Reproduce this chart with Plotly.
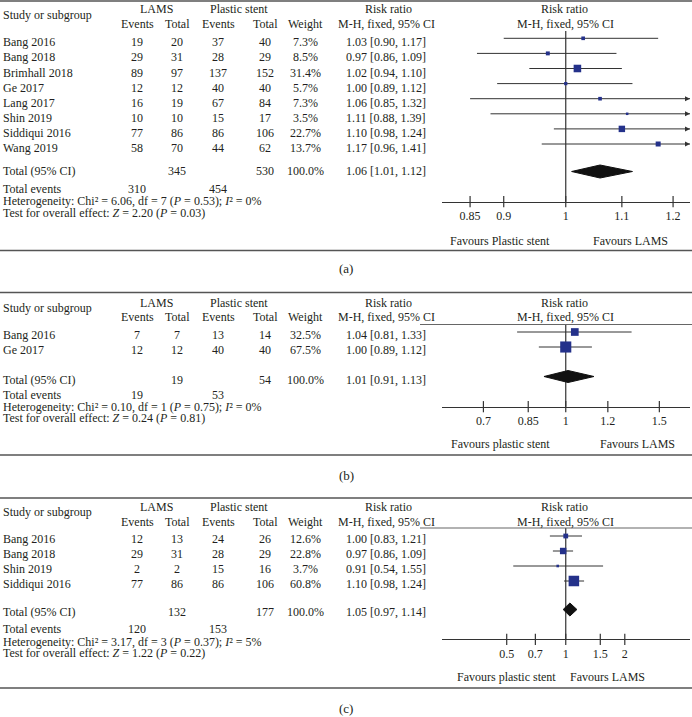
import math
import plotly.graph_objects as go

# ---------------- data ----------------
# Panel (a)
studies_a = ["Bang 2016", "Bang 2018", "Brimhall 2018", "Ge 2017", "Lang 2017",
             "Shin 2019", "Siddiqui 2016", "Wang 2019"]
lams_ev_a = [19, 29, 89, 12, 16, 10, 77, 58]
lams_tot_a = [20, 31, 97, 12, 19, 10, 86, 70]
ps_ev_a = [37, 28, 137, 40, 67, 15, 86, 44]
ps_tot_a = [40, 29, 152, 40, 84, 17, 106, 62]
weight_a = [7.3, 8.5, 31.4, 5.7, 7.3, 3.5, 22.7, 13.7]
rr_a = [1.03, 0.97, 1.02, 1.00, 1.06, 1.11, 1.10, 1.17]
lo_a = [0.90, 0.86, 0.94, 0.89, 0.85, 0.88, 0.98, 0.96]
hi_a = [1.17, 1.09, 1.10, 1.12, 1.32, 1.39, 1.24, 1.41]
total_a = [345, 530, 310, 454]          # LAMS total, PS total, LAMS events, PS events
pooled_a = [1.06, 1.01, 1.12]
het_a = ["6.06", "7", "0.53", "0%"]
z_a = ["2.20", "0.03"]
ticks_a = [0.85, 0.9, 1, 1.1, 1.2]
tick_text_a = ["0.85", "0.9", "1", "1.1", "1.2"]

# Panel (b)
studies_b = ["Bang 2016", "Ge 2017"]
lams_ev_b = [7, 12]
lams_tot_b = [7, 12]
ps_ev_b = [13, 40]
ps_tot_b = [14, 40]
weight_b = [32.5, 67.5]
rr_b = [1.04, 1.00]
lo_b = [0.81, 0.89]
hi_b = [1.33, 1.12]
total_b = [19, 54, 19, 53]
pooled_b = [1.01, 0.91, 1.13]
het_b = ["0.10", "1", "0.75", "0%"]
z_b = ["0.24", "0.81"]
ticks_b = [0.7, 0.85, 1, 1.2, 1.5]
tick_text_b = ["0.7", "0.85", "1", "1.2", "1.5"]

# Panel (c)
studies_c = ["Bang 2016", "Bang 2018", "Shin 2019", "Siddiqui 2016"]
lams_ev_c = [12, 29, 2, 77]
lams_tot_c = [13, 31, 2, 86]
ps_ev_c = [24, 28, 15, 86]
ps_tot_c = [26, 29, 16, 106]
weight_c = [12.6, 22.8, 3.7, 60.8]
rr_c = [1.00, 0.97, 0.91, 1.10]
lo_c = [0.83, 0.86, 0.54, 0.98]
hi_c = [1.21, 1.09, 1.55, 1.24]
total_c = [132, 177, 120, 153]
pooled_c = [1.05, 0.97, 1.14]
het_c = ["3.17", "3", "0.37", "5%"]
z_c = ["1.22", "0.22"]
ticks_c = [0.5, 0.7, 1, 1.5, 2]
tick_text_c = ["0.5", "0.7", "1", "1.5", "2"]

fav_left = ["Favours Plastic stent", "Favours plastic stent", "Favours plastic stent"]
fav_right = ["Favours LAMS", "Favours LAMS", "Favours LAMS"]
panel_labels = ["(a)", "(b)", "(c)"]

# ---------------- styling / layout ----------------
W, H = 692, 717
FONT = "Liberation Serif"
TXT = "#231f20"
LINE = "#333333"
BLUE = "#24318a"

COL = dict(study=2, ev1=137, tot1=177, ev2=218, tot2=265, wt=305, ci=386, fp=565)
FX0, FX1 = 441.5, 690.0

panels = [
    dict(studies=studies_a, lev=lams_ev_a, ltot=lams_tot_a, pev=ps_ev_a, ptot=ps_tot_a,
         wt=weight_a, rr=rr_a, lo=lo_a, hi=hi_a, tot=total_a, pooled=pooled_a,
         het=het_a, z=z_a, ticks=ticks_a, ttext=tick_text_a, rmax=1.235,
         top=1, h1=9, hs=15, h2=24, hline=None, row0=42.3, step=15.1, fdy=-4,
         ytot=171, yev=188.5, yhet=201, ytest=212.5, ydia=171.5, dh=6.5,
         vtop=31, axis=201.7, fav=241, bottom=250.5, lab=268),
    dict(studies=studies_b, lev=lams_ev_b, ltot=lams_tot_b, pev=ps_ev_b, ptot=ps_tot_b,
         wt=weight_b, rr=rr_b, lo=lo_b, hi=hi_b, tot=total_b, pooled=pooled_b,
         het=het_b, z=z_b, ticks=ticks_b, ttext=tick_text_b, rmax=1.713,
         top=292.5, h1=302.5, hs=307.5, h2=317, hline=324.5, row0=335, step=15, fdy=-3,
         ytot=380, yev=395, yhet=407, ytest=418, ydia=376.5, dh=6,
         vtop=324.5, axis=406.7, fav=444.3, bottom=455, lab=475),
    dict(studies=studies_c, lev=lams_ev_c, ltot=lams_tot_c, pev=ps_ev_c, ptot=ps_tot_c,
         wt=weight_c, rr=rr_c, lo=lo_c, hi=hi_c, tot=total_c, pooled=pooled_c,
         het=het_c, z=z_c, ticks=ticks_c, ttext=tick_text_c, rmax=4.3,
         top=498, h1=506.5, hs=512, h2=522, hline=528, row0=539, step=15, fdy=-3,
         ytot=612, yev=628.5, yhet=642, ytest=653, ydia=609.5, dh=6.5,
         vtop=528, axis=639.3, fav=677, bottom=688, lab=708),
]

fig = go.Figure()
ann = []
shapes = []


def txt(x, y, s, anchor="center", size=12):
    ann.append(dict(x=x, y=y, xref="x", yref="y", text=s, showarrow=False,
                    xanchor=anchor, yanchor="middle", borderpad=0,
                    font=dict(family=FONT, size=size, color=TXT)))


def hline(y, x0=0, x1=W, color="#555555", width=1.5):
    shapes.append(dict(type="line", xref="x", yref="y", x0=x0, x1=x1, y0=y, y1=y,
                       line=dict(color=color, width=width)))


layout_axes = {}
for k, p in enumerate(panels):
    ax = "x%d" % (k + 2)
    axname = "xaxis%d" % (k + 2)
    # --- frame lines
    hline(p["top"])
    hline(p["bottom"])
    if p["hline"] is not None:
        hline(p["hline"], x0=420, x1=W, color="#666666", width=1.2)

    # --- header
    txt(156, p["h1"], "LAMS")
    txt(239, p["h1"], "Plastic stent")
    txt(COL["ci"] + 2, p["h1"], "Risk ratio")
    txt(COL["fp"] - 1, p["h1"], "Risk ratio")
    txt(COL["study"], p["hs"], "Study or subgroup", anchor="left")
    txt(COL["ev1"], p["h2"], "Events")
    txt(COL["tot1"], p["h2"], "Total")
    txt(COL["ev2"], p["h2"], "Events")
    txt(COL["tot2"], p["h2"], "Total")
    txt(COL["wt"], p["h2"], "Weight")
    txt(COL["ci"], p["h2"], "M-H, fixed, 95% CI")
    txt(COL["fp"], p["h2"], "M-H, fixed, 95% CI")

    # --- study rows
    ys = [p["row0"] + p["step"] * i for i in range(len(p["studies"]))]
    for i, y in enumerate(ys):
        txt(COL["study"], y, p["studies"][i], anchor="left")
        txt(COL["ev1"], y, str(p["lev"][i]))
        txt(COL["tot1"], y, str(p["ltot"][i]))
        txt(COL["ev2"], y, str(p["pev"][i]))
        txt(COL["tot2"], y, str(p["ptot"][i]))
        txt(COL["wt"], y, "%.1f%%" % p["wt"][i])
        txt(COL["ci"], y, "%.2f [%.2f, %.2f]" % (p["rr"][i], p["lo"][i], p["hi"][i]))

    # --- totals
    txt(COL["study"], p["ytot"], "Total (95% CI)", anchor="left")
    txt(COL["tot1"], p["ytot"], str(p["tot"][0]))
    txt(COL["tot2"], p["ytot"], str(p["tot"][1]))
    txt(COL["wt"], p["ytot"], "100.0%")
    txt(COL["ci"], p["ytot"], "%.2f [%.2f, %.2f]" % tuple(p["pooled"]))
    txt(COL["study"], p["yev"], "Total events", anchor="left")
    txt(COL["ev1"], p["yev"], str(p["tot"][2]))
    txt(COL["ev2"], p["yev"], str(p["tot"][3]))
    h = p["het"]
    txt(COL["study"], p["yhet"],
        "Heterogeneity: Chi² = %s, df = %s (<i>P</i> = %s); <i>I</i>² = %s"
        % (h[0], h[1], h[2], h[3]), anchor="left")
    txt(COL["study"], p["ytest"],
        "Test for overall effect: <i>Z</i> = %s (<i>P</i> = %s)" % (p["z"][0], p["z"][1]),
        anchor="left")

    # --- favours + panel label
    if k == 2:
        txt(506, p["fav"], fav_left[k])
        txt(607, p["fav"], fav_right[k])
    else:
        txt(500, p["fav"], fav_left[k])
        txt(630 if k == 0 else 637, p["fav"], fav_right[k])
    txt(346, p["lab"], panel_labels[k], size=13)

    # --- forest plot traces
    fy = [y + p["fdy"] for y in ys]
    # vertical line at RR = 1
    fig.add_trace(go.Scatter(x=[1, 1], y=[p["vtop"], p["axis"]], xaxis=ax, yaxis="y",
                             mode="lines", line=dict(color=LINE, width=1.2),
                             hoverinfo="skip", showlegend=False))
    # CI lines
    cx, cy = [], []
    for i, y in enumerate(fy):
        cx += [p["lo"][i], p["hi"][i], None]
        cy += [y, y, None]
    fig.add_trace(go.Scatter(x=cx, y=cy, xaxis=ax, yaxis="y", mode="lines",
                             line=dict(color=LINE, width=1), hoverinfo="skip",
                             showlegend=False))
    # arrows for CIs leaving the axis
    arr_x = [p["rmax"] for i in range(len(fy)) if p["hi"][i] > p["rmax"]]
    arr_y = [fy[i] for i in range(len(fy)) if p["hi"][i] > p["rmax"]]
    if arr_x:
        fig.add_trace(go.Scatter(x=arr_x, y=arr_y, xaxis=ax, yaxis="y", mode="markers",
                                 marker=dict(symbol="arrow-right", size=5, color=LINE,
                                             line=dict(width=0)),
                                 cliponaxis=False, hoverinfo="skip", showlegend=False))
    # squares
    fig.add_trace(go.Scatter(x=p["rr"], y=fy, xaxis=ax, yaxis="y", mode="markers",
                             marker=dict(symbol="square", color=BLUE, opacity=1,
                                         size=[max(2.5, 1.35 * math.sqrt(w)) for w in p["wt"]],
                                         line=dict(width=0)),
                             hoverinfo="skip", showlegend=False))
    # diamond
    est, dlo, dhi = p["pooled"]
    yd, dh = p["ydia"], p["dh"]
    fig.add_trace(go.Scatter(x=[dlo, est, dhi, est, dlo], y=[yd, yd - dh, yd, yd + dh, yd],
                             xaxis=ax, yaxis="y", mode="lines", fill="toself",
                             fillcolor="#111111", line=dict(color="#111111", width=1),
                             hoverinfo="skip", showlegend=False))
    # tick marks crossing the axis
    fig.add_trace(go.Scatter(x=p["ticks"], y=[p["axis"]] * len(p["ticks"]), xaxis=ax,
                             yaxis="y", mode="markers",
                             marker=dict(symbol="line-ns", size=8,
                                         line=dict(color=LINE, width=1.2)),
                             cliponaxis=False, hoverinfo="skip", showlegend=False))

    layout_axes[axname] = dict(
        type="log", range=[math.log10(1 / p["rmax"]), math.log10(p["rmax"])],
        domain=[FX0 / W, FX1 / W], anchor="free", position=1 - p["axis"] / H,
        showline=True, linecolor=LINE, linewidth=1.2, showgrid=False, zeroline=False,
        tickmode="array", tickvals=p["ticks"], ticktext=p["ttext"],
        ticks="", ticklabelstandoff=3,
        tickfont=dict(family=FONT, size=12, color=TXT), fixedrange=True)

fig.update_layout(
    width=W, height=H, margin=dict(l=0, r=0, t=0, b=0, autoexpand=False),
    paper_bgcolor="white", plot_bgcolor="rgba(0,0,0,0)",
    xaxis=dict(range=[0, W], domain=[0, 1], visible=False, fixedrange=True),
    yaxis=dict(range=[H, 0], domain=[0, 1], visible=False, fixedrange=True),
    annotations=ann, shapes=shapes, showlegend=False,
    **layout_axes,
)

fig.write_html("out.html", config={"displayModeBar": False},
               post_script="document.body.style.margin='0';")
